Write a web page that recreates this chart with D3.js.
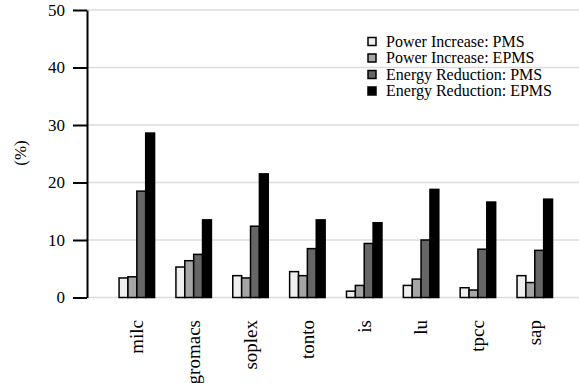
<!DOCTYPE html>
<html>
<head>
<meta charset="utf-8">
<script src="https://cdn.jsdelivr.net/npm/d3@7/dist/d3.min.js"></script>
<style>
  body { margin: 0; background: #fff; }
  svg { display: block; }
  svg text { font-family: 'Liberation Serif', 'DejaVu Serif', serif; }
</style>
</head>
<body>
<svg id="chart" width="579" height="383"></svg>
<script>
// Benchmarks along the x axis
var benchmarks = ["milc", "gromacs", "soplex", "tonto", "is", "lu", "tpcc", "sap"];

// One series per bar in each group, values in percent
var seriesNames = [
  "Power Increase: PMS",
  "Power Increase: EPMS",
  "Energy Reduction: PMS",
  "Energy Reduction: EPMS"
];
var powerIncreasePMS = [3.4, 5.3, 3.8, 4.5, 1.1, 2.1, 1.7, 3.8];
var powerIncreaseEPMS = [3.6, 6.4, 3.4, 3.8, 2.1, 3.2, 1.3, 2.6];
var energyReductionPMS = [18.5, 7.5, 12.4, 8.5, 9.4, 10.0, 8.4, 8.2];
var energyReductionEPMS = [28.6, 13.5, 21.5, 13.5, 13.0, 18.8, 16.6, 17.1];

var yTicks = [0, 10, 20, 30, 40, 50];
var seriesColors = ["#efefef", "#a5a5a5", "#666666", "#000000"];

function renderChart(targetElement) {
  /* Grouped bar chart, 4 bars per benchmark. */
  var svg = d3.select(targetElement);
  var axisX = 87;

  var seriesValues = [powerIncreasePMS, powerIncreaseEPMS, energyReductionPMS, energyReductionEPMS];
  var rows = benchmarks.map(function(b, i) {
    return { name: b, values: seriesValues.map(function(s) { return s[i]; }) };
  });

  var y = d3.scaleLinear().domain([0, 50]).range([297.5, 10]);
  var x = d3.scaleBand().domain(benchmarks).range([108.4, 563.2]).padding(0);
  // bars take the middle part of each band
  var groupWidth = 35.5;
  var xInner = d3.scaleBand().domain(d3.range(seriesNames.length))
    .range([(x.bandwidth() - groupWidth) / 2, (x.bandwidth() + groupWidth) / 2]);

  // Grid lines behind the bars
  svg.append("g").selectAll("line")
    .data(yTicks)
    .enter().append("line")
      .attr("x1", axisX)
      .attr("x2", 579)
      .attr("y1", function(d) { return y(d); })
      .attr("y2", function(d) { return y(d); })
      .attr("stroke", "#dcdcdc")
      .attr("stroke-width", 1.5);

  // Bars
  var groups = svg.append("g").selectAll("g")
    .data(rows)
    .enter().append("g")
      .attr("transform", function(d) { return "translate(" + x(d.name) + ",0)"; });

  groups.selectAll("rect")
    .data(function(d) { return d.values; })
    .enter().append("rect")
      .attr("x", function(d, i) { return xInner(i); })
      .attr("width", xInner.bandwidth())
      .attr("y", function(d) { return y(d); })
      .attr("height", function(d) { return y(0) - y(d); })
      .attr("fill", function(d, i) { return seriesColors[i]; })
      .attr("stroke", "#000")
      .attr("stroke-width", 1.5);

  // Y Axis
  var yAxis = svg.append("g")
    .attr("transform", "translate(" + axisX + ",0)")
    .call(d3.axisLeft(y).tickValues(yTicks).tickSize(14).tickSizeOuter(0).tickPadding(8));
  yAxis.attr("font-family", null);
  yAxis.select(".domain").attr("stroke-width", 2);
  yAxis.selectAll(".tick line").attr("stroke-width", 2);
  yAxis.selectAll(".tick text")
    .attr("font-size", 17)
    .attr("fill", "#000");

  svg.append("text")
    .attr("transform", "translate(20,153) rotate(-90)")
    .attr("text-anchor", "middle")
    .attr("dy", "0.35em")
    .attr("font-size", 17)
    .text("(%)");

  // Benchmark names, rotated
  svg.append("g").selectAll("text")
    .data(benchmarks)
    .enter().append("text")
      .attr("transform", function(d) {
        return "translate(" + (x(d) + x.bandwidth() / 2) + ",320) rotate(-90)";
      })
      .attr("text-anchor", "end")
      .attr("dy", "0.33em")
      .attr("font-size", 19)
      .text(function(d) { return d; });

  // Legend
  var legend = svg.append("g").selectAll("g")
    .data(seriesNames)
    .enter().append("g")
      .attr("transform", function(d, i) { return "translate(368," + (41.5 + i * 16.5) + ")"; });
  legend.append("rect")
    .attr("x", 0).attr("y", -4)
    .attr("width", 8).attr("height", 8)
    .attr("fill", function(d, i) { return seriesColors[i]; })
    .attr("stroke", "#000")
    .attr("stroke-width", 1.5);
  legend.append("text")
    .attr("x", 18)
    .attr("dy", "0.33em")
    .attr("font-size", 16)
    .text(function(d) { return d; });
}

renderChart("#chart");
</script>
</body>
</html>
